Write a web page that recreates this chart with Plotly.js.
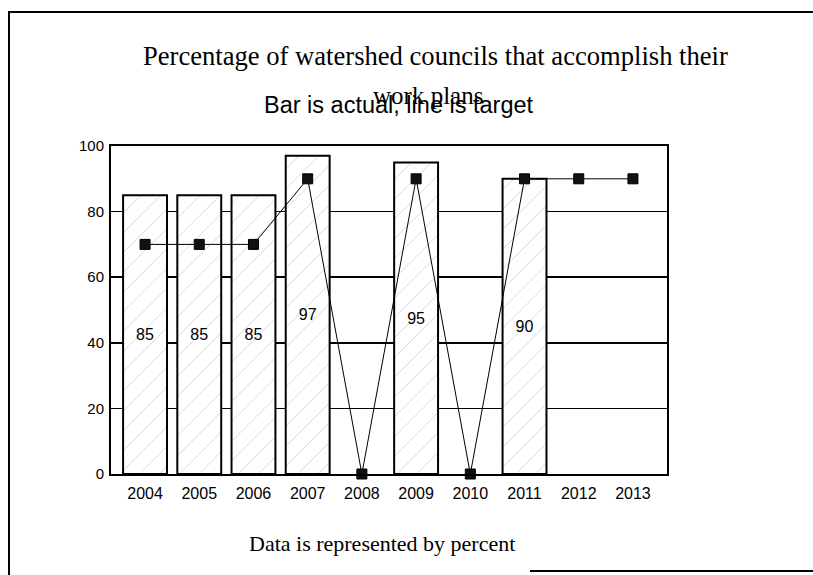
<!DOCTYPE html>
<html>
<head>
<meta charset="utf-8">
<script src="https://cdn.plot.ly/plotly-3.0.1.min.js"></script>
<style>html,body{margin:0;padding:0;background:#fff;}#chart{width:813px;height:575px;}</style>
</head>
<body>
<div id="chart"></div>
<script>
// ---- data ----
const years = ["2004","2005","2006","2007","2008","2009","2010","2011","2012","2013"];
const actual = [85, 85, 85, 97, null, 95, null, 90, null, null];
const target = [70, 70, 70, 90, 0, 90, 0, 90, 90, 90];
const titleLine1 = "Percentage of watershed councils that accomplish their";
const titleLine2 = "work plans";
const subtitle = "Bar is actual, line is target";
const footer = "Data is represented by percent";

// ---- layout geometry (pixels) ----
const W = 813, H = 575;
const L = 111, R = 667, T = 146, B = 474;
const px = x => (x - L) / (R - L);
const py = y => (B - y) / (B - T);

const barTrace = {
  type: "bar",
  x: years,
  y: actual,
  text: actual.map(v => v == null ? "" : String(v)),
  textposition: "inside",
  insidetextanchor: "middle",
  textangle: 0,
  textfont: {family: "Liberation Sans, Arial, sans-serif", size: 16, color: "#000"},
  marker: {
    color: "#fff",
    line: {color: "#000", width: 2},
    pattern: {shape: "/", fgcolor: "#cfcfcf", bgcolor: "#fff", size: 14, solidity: 0.06}
  },
  hoverinfo: "skip",
  showlegend: false
};

const lineTrace = {
  type: "scatter",
  mode: "lines+markers",
  x: years,
  y: target,
  line: {color: "#000", width: 1},
  marker: {symbol: "square", size: 10, color: "#111", line: {color: "#000", width: 1}},
  cliponaxis: false,
  hoverinfo: "skip",
  showlegend: false
};

const layout = {
  width: W, height: H,
  margin: {l: L, r: W - R, t: T, b: H - B, pad: 0},
  paper_bgcolor: "#fff",
  plot_bgcolor: "#fff",
  bargap: 0.19,
  showlegend: false,
  font: {family: "Liberation Sans, Arial, sans-serif", color: "#000"},
  xaxis: {
    type: "category",
    showgrid: false,
    showline: true, linecolor: "#000", linewidth: 2, mirror: true,
    ticks: "", ticklen: 0,
    ticklabelstandoff: 4,
    tickfont: {size: 16, family: "Liberation Sans, Arial, sans-serif"},
    zeroline: false,
    fixedrange: true
  },
  yaxis: {
    range: [0, 100],
    tickvals: [0, 20, 40, 60, 80, 100],
    showgrid: true, gridcolor: "#000", gridwidth: 1.5,
    showline: true, linecolor: "#000", linewidth: 2, mirror: true,
    ticks: "",
    ticklabelstandoff: 2,
    tickfont: {size: 15, family: "Liberation Sans, Arial, sans-serif"},
    zeroline: false,
    fixedrange: true
  },
  annotations: [
    {text: titleLine1, xref: "paper", yref: "paper", x: px(435), y: py(56), xanchor: "center", yanchor: "middle",
     showarrow: false, font: {family: "Liberation Serif, Times New Roman, serif", size: 26.6, color: "#000"}},
    {text: titleLine2, xref: "paper", yref: "paper", x: px(428), y: py(95), xanchor: "center", yanchor: "middle",
     showarrow: false, font: {family: "Liberation Serif, Times New Roman, serif", size: 25, color: "#000"}},
    {text: subtitle, xref: "paper", yref: "paper", x: px(399), y: py(105), xanchor: "center", yanchor: "middle",
     showarrow: false, font: {family: "Liberation Sans, Arial, sans-serif", size: 23.5, color: "#000"}},
    {text: footer, xref: "paper", yref: "paper", x: px(382), y: py(543), xanchor: "center", yanchor: "middle",
     showarrow: false, font: {family: "Liberation Serif, Times New Roman, serif", size: 22, color: "#000"}}
  ],
  shapes: [
    {type: "line", xref: "paper", yref: "paper", x0: px(8), x1: px(813), y0: py(12), y1: py(12), line: {color: "#000", width: 2}},
    {type: "line", xref: "paper", yref: "paper", x0: px(9), x1: px(9), y0: py(12), y1: py(575), line: {color: "#000", width: 2}},
    {type: "line", xref: "paper", yref: "paper", x0: px(530), x1: px(813), y0: py(571), y1: py(571), line: {color: "#000", width: 2}}
  ]
};

Plotly.newPlot("chart", [barTrace, lineTrace], layout, {staticPlot: true, displayModeBar: false});
</script>
</body>
</html>
